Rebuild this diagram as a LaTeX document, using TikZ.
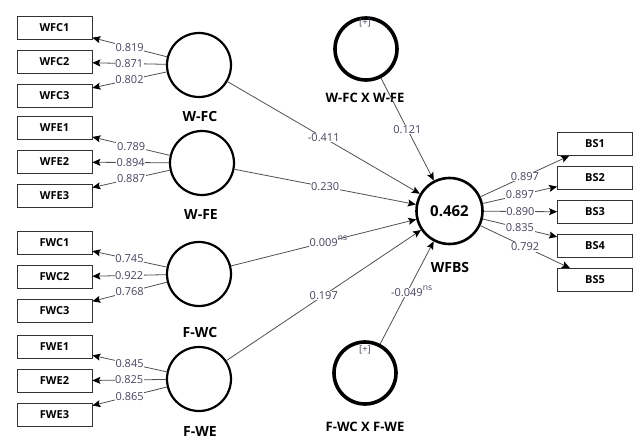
\documentclass[tikz,border=0pt]{standalone}
\usepackage{fontspec}
\setmainfont{Open Sans}
\usetikzlibrary{arrows.meta}
\definecolor{numc}{HTML}{45455F}
\definecolor{linec}{HTML}{505050}
\tikzset{
  ind/.style={draw=black!80, line width=0.8pt, minimum width=75pt, minimum height=23pt, inner sep=0pt, font=\fontsize{11}{12}\selectfont\bfseries},
  lv/.style={circle, draw=black, line width=2.2pt, minimum size=64pt, inner sep=0pt},
  lvi/.style={circle, draw=black, line width=3.6pt, minimum size=62pt, inner sep=0pt},
  lvname/.style={font=\fontsize{14}{15}\selectfont\bfseries},
  arr/.style={draw=linec, line width=0.8pt, -{Stealth[length=8pt,width=7pt,inset=1.5pt,color=black]}},
  num/.style={fill=white, inner sep=0.6pt, text=numc, font=\fontsize{11}{12}\selectfont},
  ns/.style={font=\fontsize{8.5}{9}\selectfont\rmfamily, text=numc, inner sep=0pt}
}
\begin{document}
\begin{tikzpicture}[x=1pt,y=-1pt]
\useasboundingbox (0,0) rectangle (633,444);
% left indicator boxes
\node[ind] (wfc1) at (54.5,28) {WFC1};
\node[ind] (wfc2) at (54.5,62) {WFC2};
\node[ind] (wfc3) at (54.5,96) {WFC3};
\node[ind] (wfe1) at (54.5,128) {WFE1};
\node[ind] (wfe2) at (54.5,162) {WFE2};
\node[ind] (wfe3) at (54.5,196) {WFE3};
\node[ind] (fwc1) at (54.5,243) {FWC1};
\node[ind] (fwc2) at (54.5,277) {FWC2};
\node[ind] (fwc3) at (54.5,311) {FWC3};
\node[ind] (fwe1) at (54.5,347) {FWE1};
\node[ind] (fwe2) at (54.5,381) {FWE2};
\node[ind] (fwe3) at (54.5,415) {FWE3};
% right boxes
\node[ind] (bs1) at (595,144) {BS1};
\node[ind] (bs2) at (595,178) {BS2};
\node[ind] (bs3) at (595,212) {BS3};
\node[ind] (bs4) at (595,246) {BS4};
\node[ind] (bs5) at (595,280) {BS5};
% latent variables
\node[lv] (wfc) at (199,65) {};
\node[lvname] (wfcl) at (200,117) {W-FC};
\node[lv] (wfe) at (202,163) {};
\node[lvname] (wfel) at (201,215) {W-FE};
\node[lv] (fwc) at (199,274) {};
\node[lvname] (fwcl) at (200,332) {F-WC};
\node[lv] (fwe) at (199,379) {};
\node[lvname] (fwel) at (200,432) {F-WE};
\node[lv, minimum size=66pt, line width=2.6pt, font=\fontsize{15}{16}\selectfont\bfseries] (wfbs) at (449.5,211) {0.462};
\node[lvname] (wfbsl) at (450,267) {WFBS};
\node[lvi] (int1) at (366,49) {};
\node[font=\fontsize{9.5}{10}\selectfont, text=numc] (int1p) at (365,23) {[+]};
\node[lvname, font=\fontsize{13}{14}\selectfont\bfseries] (int1l) at (365,98) {W-FC X W-FE};
\node[lvi] (int2) at (365,373) {};
\node[font=\fontsize{9.5}{10}\selectfont, text=numc] (int2p) at (365,350) {[+]};
\node[lvname, font=\fontsize{13}{14}\selectfont\bfseries] (int2l) at (365,427) {F-WC X F-WE};
% loadings
\draw[arr] (wfc) -- node[num]{0.819} (wfc1);
\draw[arr] (wfc) -- node[num]{0.871} (wfc2);
\draw[arr] (wfc) -- node[num]{0.802} (wfc3);
\draw[arr] (wfe) -- node[num]{0.789} (wfe1);
\draw[arr] (wfe) -- node[num]{0.894} (wfe2);
\draw[arr] (wfe) -- node[num]{0.887} (wfe3);
\draw[arr] (fwc) -- node[num]{0.745} (fwc1);
\draw[arr] (fwc) -- node[num]{0.922} (fwc2);
\draw[arr] (fwc) -- node[num]{0.768} (fwc3);
\draw[arr] (fwe) -- node[num]{0.845} (fwe1);
\draw[arr] (fwe) -- node[num]{0.825} (fwe2);
\draw[arr] (fwe) -- node[num]{0.865} (fwe3);
\draw[arr] (wfbs) -- node[num]{0.897} (bs1);
\draw[arr] (wfbs) -- node[num]{0.897} (bs2);
\draw[arr] (wfbs) -- node[num]{0.890} (bs3);
\draw[arr] (wfbs) -- node[num]{0.835} (bs4);
\draw[arr] (wfbs) -- node[num]{0.792} (bs5);
% paths
\draw[arr] (wfc) -- node[num]{-0.411} (wfbs);
\draw[arr] (wfe) -- node[num]{0.230} (wfbs);
\draw[arr] (fwc) -- node[num] (p3) {0.009} (wfbs);
\draw[arr] (fwe) -- node[num]{0.197} (wfbs);
\draw[arr] (int1) -- node[num]{0.121} (wfbs);
\draw[arr] (int2) -- node[num] (p6) {-0.049} (wfbs);
\node[ns, anchor=south west] at ([xshift=-1pt,yshift=-3pt]p3.north east) {ns};
\node[ns, anchor=south west] at ([xshift=-1pt,yshift=-3pt]p6.north east) {ns};
\end{tikzpicture}
\end{document}
